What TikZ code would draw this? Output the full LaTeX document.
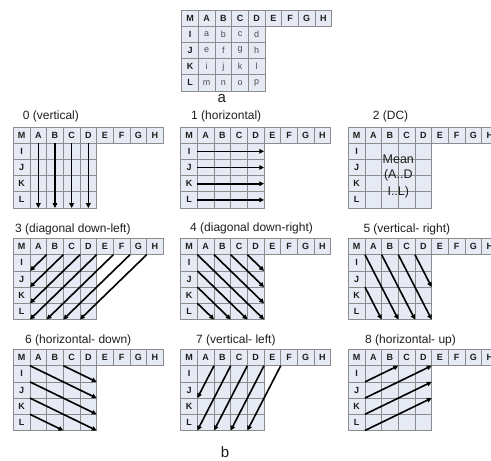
\documentclass[tikz,border=0pt]{standalone}
\usepackage{fontspec}
\setmainfont{Liberation Sans}
\usetikzlibrary{arrows.meta}
\definecolor{cellfill}{HTML}{E6EAF4}
\definecolor{cellline}{HTML}{8C8C8C}
\definecolor{txt}{HTML}{1E1E1E}
\tikzset{
  cell/.style={draw=cellline, fill=cellfill, line width=0.7pt},
  hd/.style={font=\fontsize{9}{10}\selectfont\bfseries, text=txt, inner sep=0pt},
  lc/.style={font=\fontsize{9}{10}\selectfont, text=txt!80, inner sep=0pt},
  ttl/.style={font=\fontsize{12}{14}\selectfont, text=txt, anchor=west, inner sep=0pt},
  lbl/.style={font=\fontsize{15}{17}\selectfont, text=txt, inner sep=0pt},
  arr/.style={line width=1.6pt, black, -{Triangle[length=4.8pt,width=4.6pt]}},
  gridunits/.style={x=16.67pt, y=-16.2pt}
}
\newcommand\drawgrid{%
  \foreach \l [count=\i from 0] in {M,A,B,C,D,E,F,G,H} {
    \draw[cell] (\i,0) rectangle ++(1,1);
    \node[hd] at (\i+0.5,0.5) {\l};
  }
  \foreach \l [count=\j from 1] in {I,J,K,L} {
    \draw[cell] (0,\j) rectangle ++(1,1);
    \node[hd] at (0.5,\j+0.5) {\l};
    \foreach \i in {1,...,4} { \draw[cell] (\i,\j) rectangle ++(1,1); }
  }
}
\begin{document}
\begin{tikzpicture}[x=1pt, y=-1pt]
\useasboundingbox (0,0) rectangle (491,461);
\clip (0,0) rectangle (491,461);

% ---------- panel a ----------
\begin{scope}[shift={(181.7,10)}, gridunits]
  \drawgrid
  \foreach \r [count=\j from 1] in {{a,b,c,d},{e,f,g,h},{i,j,k,l},{m,n,o,p}} {
    \foreach \c [count=\i from 1] in \r { \node[lc] at (\i+0.5,\j+0.5) {\c}; }
  }
\end{scope}
\node[lbl] (la) at (221.7,99) {a};

% ---------- row 1 ----------
\node[ttl] (t0) at (22.7,116) {0 (vertical)};
\begin{scope}[shift={(13.3,127)}, gridunits]
  \drawgrid
  \foreach \i in {1,...,4} { \draw[arr] (\i+0.5,1) -- (\i+0.5,5); }
\end{scope}

\node[ttl] (t1) at (191,116.5) {1 (horizontal)};
\begin{scope}[shift={(180.7,127)}, gridunits]
  \drawgrid
  \foreach \j in {1,...,4} { \draw[arr] (1,\j+0.5) -- (5,\j+0.5); }
\end{scope}

\node[ttl] (t2) at (372.7,116.5) {2 (DC)};
\begin{scope}[shift={(348.3,127)}, gridunits]
  \drawgrid
  \node[font=\fontsize{12.5}{14}\selectfont, text=txt, inner sep=0pt] (m1) at (3,2) {Mean};
  \node[font=\fontsize{12.5}{14}\selectfont, text=txt, inner sep=0pt] (m2) at (3,3) {(A..D};
  \node[font=\fontsize{12.5}{14}\selectfont, text=txt, inner sep=0pt] (m3) at (3,4) {I..L)};
\end{scope}

% ---------- row 2 ----------
\node[ttl] (t3) at (15,229) {3 (diagonal down-left)};
\begin{scope}[shift={(13.3,238.5)}, gridunits]
  \drawgrid
  \draw[arr] (2,1) -- (1,2);
  \draw[arr] (3,1) -- (1,3);
  \draw[arr] (4,1) -- (1,4);
  \draw[arr] (5,1) -- (1,5);
  \draw[arr] (6,1) -- (2,5);
  \draw[arr] (7,1) -- (3,5);
  \draw[arr] (8,1) -- (4,5);
\end{scope}

\node[ttl] (t4) at (190,228.5) {4 (diagonal down-right)};
\begin{scope}[shift={(180.7,238.5)}, gridunits]
  \drawgrid
  \draw[arr] (1,1) -- (5,5);
  \draw[arr] (2,1) -- (5,4);
  \draw[arr] (3,1) -- (5,3);
  \draw[arr] (4,1) -- (5,2);
  \draw[arr] (1,2) -- (4,5);
  \draw[arr] (1,3) -- (3,5);
  \draw[arr] (1,4) -- (2,5);
\end{scope}

\node[ttl] (t5) at (363.3,229) {5 (vertical- right)};
\begin{scope}[shift={(348.3,238.5)}, gridunits]
  \drawgrid
  \draw[arr] (1,1) -- (3,5);
  \draw[arr] (2,1) -- (4,5);
  \draw[arr] (3,1) -- (5,5);
  \draw[arr] (4,1) -- (5,3);
  \draw[arr] (1,3) -- (2,5);
\end{scope}

% ---------- row 3 ----------
\node[ttl] (t6) at (25,340) {6 (horizontal- down)};
\begin{scope}[shift={(13.3,349.5)}, gridunits]
  \drawgrid
  \draw[arr] (1,1) -- (5,3);
  \draw[arr] (3,1) -- (5,2);
  \draw[arr] (1,2) -- (5,4);
  \draw[arr] (1,3) -- (5,5);
  \draw[arr] (1,4) -- (3,5);
\end{scope}

\node[ttl] (t7) at (196,340) {7 (vertical- left)};
\begin{scope}[shift={(180.7,349.5)}, gridunits]
  \drawgrid
  \draw[arr] (2,1) -- (1,3);
  \draw[arr] (3,1) -- (1,5);
  \draw[arr] (4,1) -- (2,5);
  \draw[arr] (5,1) -- (3,5);
  \draw[arr] (6,1) -- (4,5);
\end{scope}

\node[ttl] (t8) at (365,340) {8 (horizontal- up)};
\begin{scope}[shift={(348.3,349.5)}, gridunits]
  \drawgrid
  \draw[arr] (1,2) -- (3,1);
  \draw[arr] (1,3) -- (5,1);
  \draw[arr] (1,4) -- (5,2);
  \draw[arr] (1,5) -- (5,3);
\end{scope}

\node[lbl] (lb) at (225,452) {b};
\end{tikzpicture}
\end{document}
